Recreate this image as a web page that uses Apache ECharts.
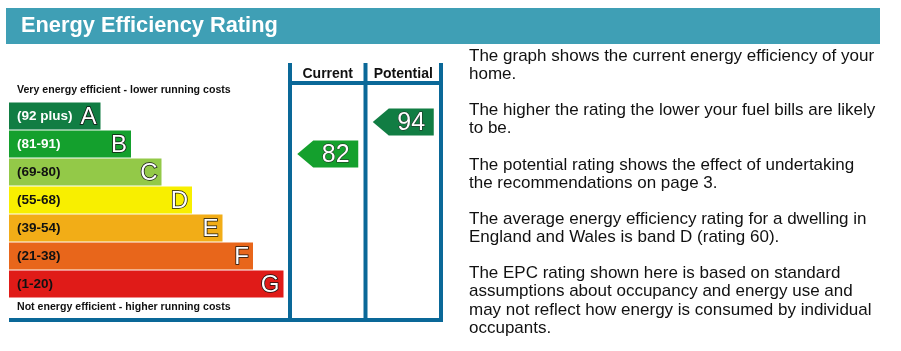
<!DOCTYPE html>
<html lang="en" style="height: 100%">
<head>
  <meta charset="utf-8">
</head>
<body style="height: 100%; margin: 0; background: #fff">
  <div id="container" style="width: 901px; height: 351px"></div>
  <script type="text/javascript" src="https://fastly.jsdelivr.net/npm/echarts@6/dist/echarts.min.js"></script>
  <script type="text/javascript">

    // bands, top (most efficient) to bottom
    var bands = ['A', 'B', 'C', 'D', 'E', 'F', 'G'];
    var bandRanges = ['(92 plus)', '(81-91)', '(69-80)', '(55-68)', '(39-54)', '(21-38)', '(1-20)'];
    var bandLengths = [3, 4, 5, 6, 7, 8, 9];

    // ratings
    var columns = ['Current', 'Potential'];
    var ratings = [82, 94];
    var ratingBands = ['B', 'A'];

    var notes = [
      'The graph shows the current energy efficiency of your\nhome.',
      'The higher the rating the lower your fuel bills are likely\nto be.',
      'The potential rating shows the effect of undertaking\nthe recommendations on page 3.',
      'The average energy efficiency rating for a dwelling in\nEngland and Wales is band D (rating 60).',
      'The EPC rating shown here is based on standard\nassumptions about occupancy and energy use and\nmay not reflect how energy is consumed by individual\noccupants.'
    ];

    var bandColors = ['#117d43', '#14a02d', '#93c948', '#f8ef00', '#f2ad17', '#e8661b', '#e01b18'];
    var frameColor = '#0a6898';
    var font = '"Liberation Sans", Arial, sans-serif';

    var dom = document.getElementById('container');
    var myChart = echarts.init(dom, null, { renderer: 'canvas' });

    function bandItem(params, api) {
      var i = api.value(1);
      var p0 = api.coord([0, i]);
      var p1 = api.coord([api.value(0), i]);
      var h = api.size([0, 1])[1] - 1;
      var x = p0[0], w = p1[0] - p0[0], y = p0[1] - h / 2;
      return {
        type: 'group',
        children: [
          { type: 'rect', shape: { x: x, y: y, width: w, height: h }, style: { fill: bandColors[i] } },
          {
            type: 'text', x: x + 8, y: p0[1] + 0.5,
            style: {
              text: bandRanges[i], font: 'bold 13.5px ' + font,
              fill: i < 2 ? '#fff' : '#111', verticalAlign: 'middle'
            }
          },
          {
            type: 'text', x: x + w - 4, y: p0[1] + 1,
            style: {
              text: bands[i], font: '24px ' + font, fill: '#fff',
              stroke: '#111', lineWidth: 1.5, align: 'right', verticalAlign: 'middle'
            }
          }
        ]
      };
    }

    function arrowItem(params, api) {
      var c = api.coord([api.value(0), api.value(1)]);
      var cx = c[0], cy = c[1];
      var color = bandColors[bands.indexOf(ratingBands[params.dataIndex])];
      return {
        type: 'group',
        children: [
          {
            type: 'polygon',
            shape: { points: [[cx - 30.5, cy], [cx - 14.5, cy - 13.5], [cx + 30.5, cy - 13.5], [cx + 30.5, cy + 13.5], [cx - 14.5, cy + 13.5]] },
            style: { fill: color }
          },
          {
            type: 'text', x: cx + 8, y: cy + 1,
            style: {
              text: String(api.value(1)), font: '25px ' + font, fill: '#fff',
              stroke: '#222', lineWidth: 1, align: 'center', verticalAlign: 'middle'
            }
          }
        ]
      };
    }

    var option = {
      animation: false,
      grid: [
        { left: 9, top: 102, width: 274.5, height: 196 },
        { left: 290, top: 102, width: 151, height: 196 }
      ],
      xAxis: [
        { gridIndex: 0, type: 'value', min: 0, max: 9, show: false },
        {
          gridIndex: 1, type: 'category', data: columns, position: 'top',
          axisLine: { show: false }, axisTick: { show: false }, splitLine: { show: false },
          axisLabel: {
            interval: 0, hideOverlap: false, margin: 21, color: '#111',
            fontFamily: font, fontWeight: 'bold', fontSize: 14
          }
        }
      ],
      yAxis: [
        { gridIndex: 0, type: 'category', data: bands, inverse: true, show: false },
        { gridIndex: 1, type: 'value', min: 28, max: 101.5, show: false }
      ],
      series: [
        {
          type: 'custom', xAxisIndex: 0, yAxisIndex: 0,
          data: bandLengths.map(function (v, i) { return [v, i]; }),
          renderItem: bandItem
        },
        {
          type: 'custom', xAxisIndex: 1, yAxisIndex: 1,
          data: ratings.map(function (v, i) { return [i, v]; }),
          renderItem: arrowItem
        }
      ],
      graphic: [
        { type: 'rect', shape: { x: 6, y: 8, width: 874, height: 36 }, style: { fill: '#3f9fb5' } },
        {
          type: 'text', x: 21, y: 26,
          style: { text: 'Energy Efficiency Rating', font: 'bold 21.8px ' + font, fill: '#fff', verticalAlign: 'middle' }
        },
        {
          type: 'text', x: 17, y: 90,
          style: { text: 'Very energy efficient - lower running costs', font: 'bold 10.6px ' + font, fill: '#111', verticalAlign: 'middle' }
        },
        {
          type: 'text', x: 17, y: 307,
          style: { text: 'Not energy efficient - higher running costs', font: 'bold 10.6px ' + font, fill: '#111', verticalAlign: 'middle' }
        },
        // frame
        { type: 'line', shape: { x1: 290, y1: 63, x2: 290, y2: 322 }, style: { stroke: frameColor, lineWidth: 4 } },
        { type: 'line', shape: { x1: 365.5, y1: 63, x2: 365.5, y2: 322 }, style: { stroke: frameColor, lineWidth: 4 } },
        { type: 'line', shape: { x1: 441, y1: 63, x2: 441, y2: 322 }, style: { stroke: frameColor, lineWidth: 4 } },
        { type: 'line', shape: { x1: 288, y1: 83, x2: 443, y2: 83 }, style: { stroke: frameColor, lineWidth: 4 } },
        { type: 'line', shape: { x1: 9, y1: 320, x2: 443, y2: 320 }, style: { stroke: frameColor, lineWidth: 4 } },
        {
          type: 'text', x: 469, y: 47,
          style: { text: notes.join('\n\n'), font: '17px ' + font, lineHeight: 18.13, fill: '#111' }
        }
      ]
    };

    myChart.setOption(option);
    window.addEventListener('resize', myChart.resize);
  </script>
</body>
</html>
